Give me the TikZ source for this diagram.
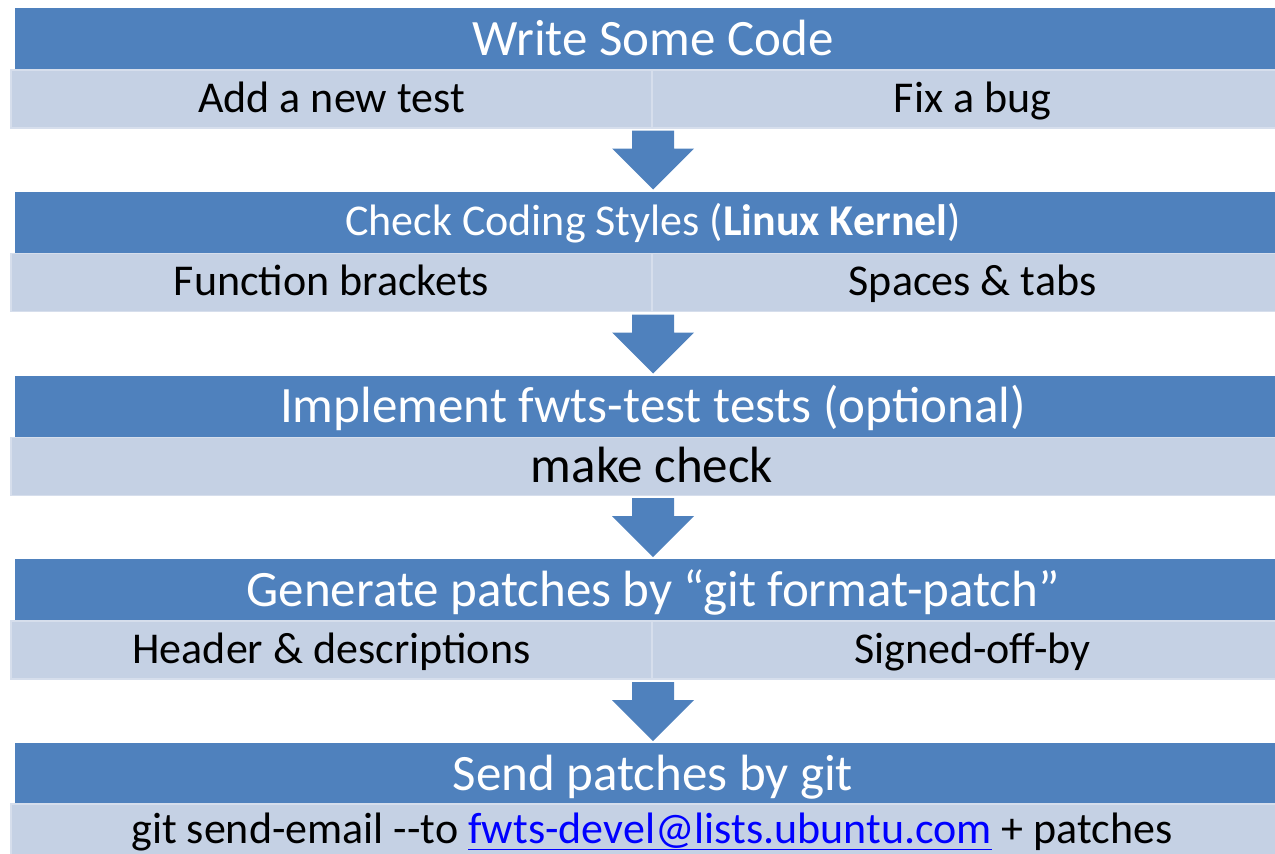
\documentclass[tikz,border=0pt]{standalone}
\usepackage{fontspec}
\setmainfont{Carlito}
\usetikzlibrary{positioning,calc}
\definecolor{barblue}{RGB}{79,129,189}
\definecolor{celllight}{RGB}{197,209,228}
\definecolor{cellline}{RGB}{214,222,236}
\definecolor{linkblue}{RGB}{0,0,255}

\begin{document}
\begin{tikzpicture}[x=1pt,y=-1pt,
  head/.style={fill=barblue,text=white,minimum width=1276pt,minimum height=62pt,
    inner sep=0pt,outer sep=0pt,anchor=north west},
  half/.style={fill=celllight,draw=cellline,line width=1.5pt,minimum width=641pt,
    minimum height=58pt,inner sep=0pt,outer sep=0pt,anchor=north west},
  full/.style={half,minimum width=1282pt},
  big/.style={font=\fontsize{51}{60}\selectfont,text height=32pt,text depth=0pt},
  small/.style={font=\fontsize{44}{52}\selectfont,text height=26pt,text depth=0pt}]
\useasboundingbox (0,0) rectangle (1275,854);
\clip (0,0) rectangle (1275,854);

% step 1
\node[head,big] (h1) at (15,8) {Write Some Code};
\node[half,small] (a1) at (11,70) {Add a new test};
\node[half,small,right=0pt of a1] (b1) {Fix a bug};

% step 2
\node[head,small] (h2) at (15,191.5) {Check Coding Styles (\textbf{Linux Kernel})};
\node[half,small] (a2) at (11,253.5) {Function brackets};
\node[half,small,right=0pt of a2] (b2) {Spaces \& tabs};

% step 3
\node[head,big] (h3) at (15,375.5) {Implement fwts-test tests (optional)};
\node[full,big] (a3) at (11,437.5) {make check};

% step 4
\node[head,big] (h4) at (15,559) {Generate patches by “git format-patch”};
\node[half,small] (a4) at (11,621) {Header \& descriptions};
\node[half,small,right=0pt of a4] (b4) {Signed-off-by};

% step 5
\node[head,big] (h5) at (15,743) {Send patches by git};
\node[full,small,minimum height=52pt] (a5) at (11,804)
  {git send-email -{}-to \textcolor{linkblue}{\underline{fwts-devel@lists.ubuntu.com}} + patches};

% arrows between the steps
\foreach \n in {h2,h3,h4,h5}
  \fill[barblue] ($(\n.north)+(0,-2)$) -- ++(-41,-41) -- ++(20,0) -- ++(0,-18)
    -- ++(42,0) -- ++(0,18) -- ++(20,0) -- cycle;
\end{tikzpicture}
\end{document}
